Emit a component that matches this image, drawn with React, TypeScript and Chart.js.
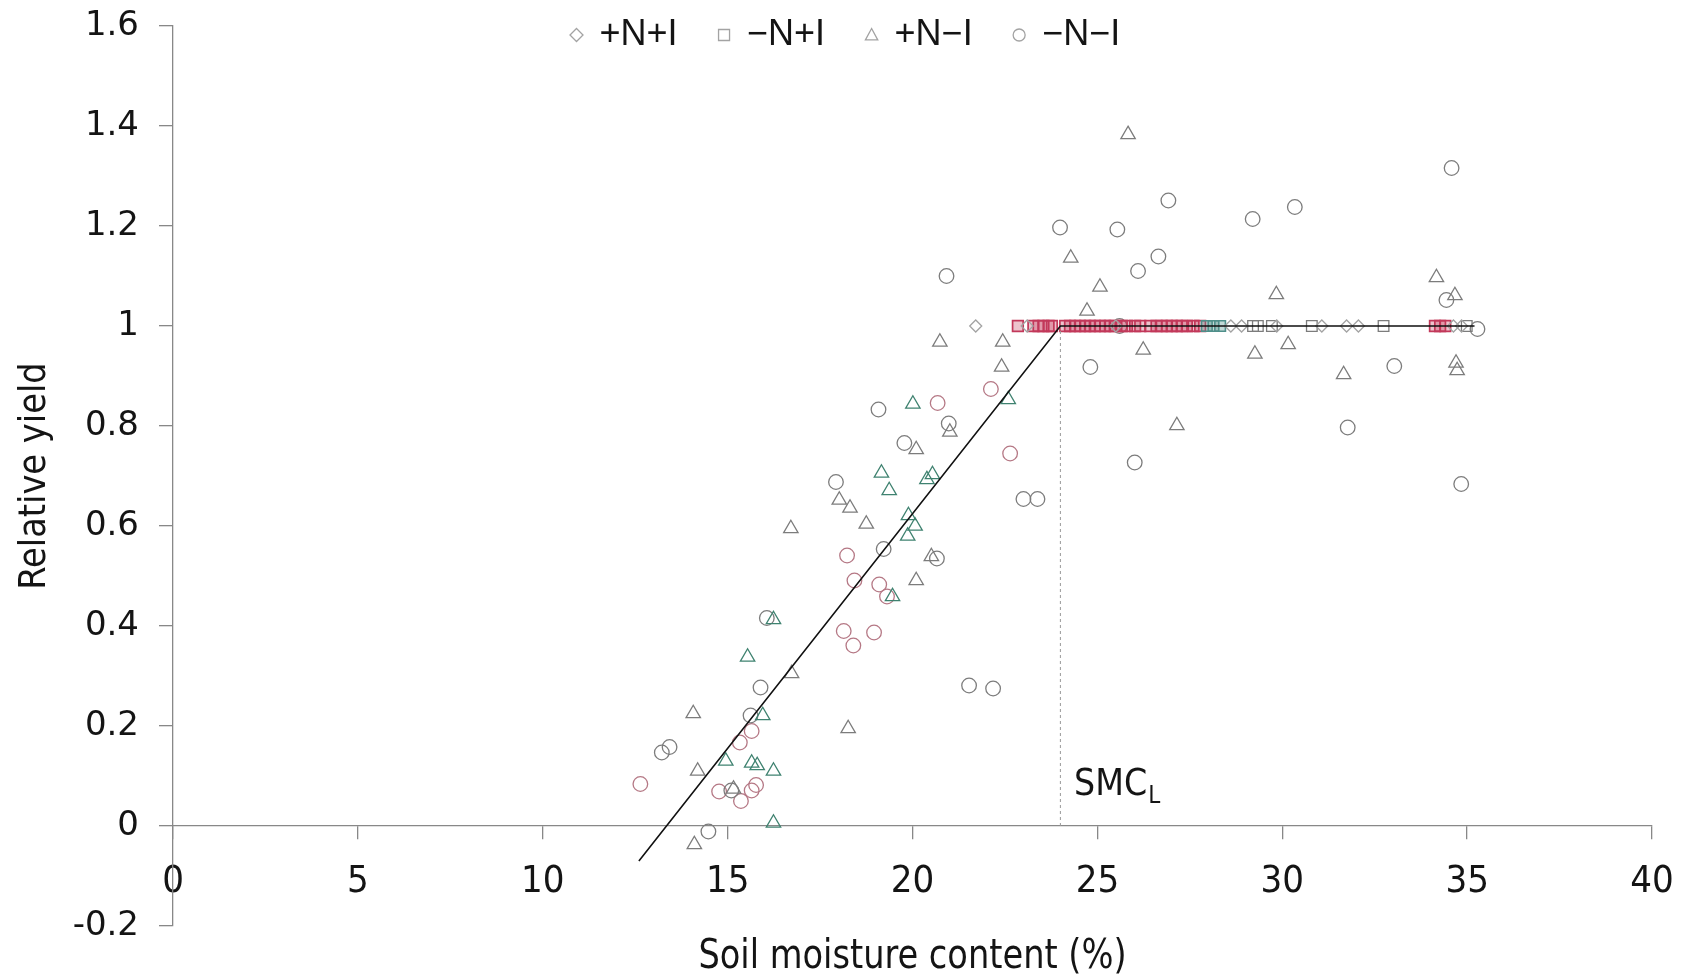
import React, { useEffect, useRef } from "react";
import { Chart, registerables } from "chart.js";

Chart.register(...registerables);

const CANVAS_W = 1696;
const CANVAS_H = 980;

// ---------- data (x = soil moisture %, y = relative yield) ----------
// +N+I (diamonds)
const diamondX = [21.71, 23.1, 25.5, 28.61, 28.9, 29.85, 31.07, 31.74, 32.06, 34.63, 34.85];
const diamondY = [1, 1, 1, 1, 1, 1, 1, 1, 1, 1, 1];

// -N+I (squares), red ones and grey ones
const squareRedX = [22.85, 23.27, 23.41, 23.54, 23.68, 23.77, 24.13, 24.26, 24.4, 24.53, 24.67, 24.8, 24.93, 25.07,
  25.21, 25.34, 25.47, 25.66, 25.8, 26.02, 26.16, 26.43, 26.6, 26.74, 26.88, 27.01, 27.15, 27.28, 27.42, 27.6,
  27.78, 34.13, 34.27, 34.41];
const squareRedY = [1, 1, 1, 1, 1, 1, 1, 1, 1, 1, 1, 1, 1, 1, 1, 1, 1, 1, 1, 1, 1, 1, 1, 1, 1, 1, 1, 1, 1, 1, 1, 1, 1, 1];
const squareTealX = [27.96, 28.14, 28.32];
const squareTealY = [1, 1, 1];
const squareGreyX = [29.21, 29.34, 29.72, 30.8, 32.74, 34.99];
const squareGreyY = [1, 1, 1, 1, 1, 1];

// +N-I (triangles), grey ones and green ones
const triGreyX = [25.83, 24.28, 25.07, 24.72, 20.74, 22.44, 22.41, 26.24, 29.84, 29.26, 30.16, 31.66, 27.15, 34.17,
  34.67, 34.7, 34.73, 21.01, 20.1, 18.02, 18.31, 16.71, 18.75, 20.51, 20.1, 16.73, 14.07, 18.26, 14.19, 14.1, 15.16];
const triGreyY = [1.383, 1.136, 1.078, 1.03, 0.968, 0.968, 0.918, 0.952, 1.063, 0.944, 0.963, 0.903, 0.801, 1.097,
  1.061, 0.926, 0.911, 0.788, 0.753, 0.652, 0.636, 0.595, 0.604, 0.539, 0.491, 0.305, 0.225, 0.195, 0.11, -0.037, 0.074];
const triGreenX = [22.59, 20.01, 19.16, 20.54, 20.39, 19.37, 19.89, 20.07, 19.87, 19.46, 16.24, 15.54, 15.95, 14.95,
  15.65, 15.8, 16.24, 16.24];
const triGreenY = [0.853, 0.844, 0.706, 0.703, 0.693, 0.671, 0.621, 0.6, 0.58, 0.459, 0.413, 0.338, 0.221, 0.13,
  0.126, 0.121, 0.11, 0.006];

// -N-I (circles), grey ones and pink ones
const circGreyX = [20.92, 23.99, 25.54, 26.92, 29.2, 30.34, 34.58, 26.1, 26.65, 34.44, 24.81, 33.03, 31.77, 26.01,
  34.84, 35.28, 25.6, 19.08, 20.98, 19.78, 17.93, 23.0, 23.38, 19.22, 20.66, 16.06, 21.53, 22.18, 15.89, 15.62,
  15.1, 14.48, 13.22, 13.43];
const circGreyY = [1.1, 1.197, 1.193, 1.251, 1.214, 1.238, 1.316, 1.11, 1.139, 1.052, 0.918, 0.92, 0.797, 0.727,
  0.684, 0.994, 1.0, 0.833, 0.805, 0.766, 0.688, 0.654, 0.654, 0.554, 0.535, 0.416, 0.281, 0.275, 0.277, 0.221,
  0.071, -0.011, 0.147, 0.158];
const circPinkX = [20.68, 22.12, 22.64, 18.23, 18.43, 19.1, 19.31, 18.14, 18.96, 18.4, 15.65, 15.33, 12.64, 14.77,
  15.65, 15.77, 15.36];
const circPinkY = [0.846, 0.874, 0.745, 0.541, 0.491, 0.483, 0.459, 0.39, 0.387, 0.361, 0.19, 0.167, 0.084, 0.069,
  0.071, 0.082, 0.05];

// linear-plateau fit and the SMC_L threshold
const fitX = [12.6, 24.0, 35.2];
const fitY = [-0.07, 1.0, 1.0];
const smcLX = [24.0, 24.0];
const smcLY = [0.0, 1.0];
const smcLabelX = 24.37;
const smcLabelY = 0.062;

// axes
const xMin = 0, xMax = 40, xStep = 5;
const yMin = -0.2, yMax = 1.6, yStep = 0.2;
const xTitle = "Soil moisture content (%)";
const yTitle = "Relative yield";
const legendLabels = ["+N+I", "\u2212N+I", "+N\u2212I", "\u2212N\u2212I"];
const legendStyles = ["rectRot", "rect", "triangle", "circle"];

// ---------- styles ----------
const TEXT = "#141414";
const AXIS = "#888888";
const GREY = "#7c7c7c";
const LIGHT_GREY = "#a3a3a3";
const RED = "#c2385a";
const TEAL = "#4f8f8a";
const PINK = "#b57885";
const GREEN = "#3f8270";
const NARROW = '"Liberation Sans Narrow", "DejaVu Sans Condensed", "Arial Narrow", sans-serif';
const WIDE = '"DejaVu Sans", Verdana, sans-serif';
const SANS = '"Liberation Sans", Arial, sans-serif';

const pts = (xs: number[], ys: number[]) => xs.map((x, i) => ({ x, y: ys[i] }));

function drawMarker(ctx: CanvasRenderingContext2D, style: string, x: number, y: number, r: number) {
  ctx.beginPath();
  if (style === "circle") {
    ctx.arc(x, y, r, 0, Math.PI * 2);
  } else if (style === "rect") {
    ctx.rect(x - r, y - r, 2 * r, 2 * r);
  } else if (style === "triangle") {
    ctx.moveTo(x, y - r);
    ctx.lineTo(x + r * 0.95, y + r * 0.75);
    ctx.lineTo(x - r * 0.95, y + r * 0.75);
    ctx.closePath();
  } else {
    ctx.moveTo(x, y - r);
    ctx.lineTo(x + r, y);
    ctx.lineTo(x, y + r);
    ctx.lineTo(x - r, y);
    ctx.closePath();
  }
  ctx.stroke();
}

const overlayPlugin = {
  id: "overlay",
  afterDraw(chart: any) {
    const { ctx, chartArea, scales } = chart;
    ctx.save();
    ctx.fillStyle = TEXT;

    // x axis title (slightly condensed like the original)
    ctx.font = `40px ${NARROW}`;
    ctx.textAlign = "center";
    ctx.textBaseline = "middle";
    ctx.save();
    ctx.translate((chartArea.left + chartArea.right) / 2, 958);
    ctx.scale(0.935, 1);
    ctx.fillText(xTitle, 0, 0);
    ctx.restore();

    // SMC_L label
    const px = scales.x.getPixelForValue(smcLabelX);
    const py = scales.y.getPixelForValue(smcLabelY);
    ctx.textAlign = "left";
    ctx.textBaseline = "alphabetic";
    ctx.font = `37px ${NARROW}`;
    ctx.fillText("SMC", px, py);
    const w = ctx.measureText("SMC").width;
    ctx.font = `24px ${NARROW}`;
    ctx.fillText("L", px + w + 1, py + 8);

    // legend
    ctx.font = `36px ${SANS}`;
    ctx.textBaseline = "middle";
    let cx = 576.5;
    const cy = 35;
    legendLabels.forEach((label, i) => {
      ctx.strokeStyle = LIGHT_GREY;
      ctx.lineWidth = 1.3;
      const r = legendStyles[i] === "rect" ? 5.5 : legendStyles[i] === "circle" ? 6 : 6.5;
      drawMarker(ctx, legendStyles[i], cx, cy, r);
      ctx.fillStyle = TEXT;
      ctx.fillText(label, cx + 23, cy);
      const tw = ctx.measureText(label).width;
      cx = cx + 23 + tw + 46.5;
    });
    ctx.restore();
  },
};

export default function App() {
  const canvasRef = useRef<HTMLCanvasElement | null>(null);

  useEffect(() => {
    const canvas = canvasRef.current;
    if (!canvas) return;
    const markerBase = { showLine: false, borderWidth: 1.3, pointBorderWidth: 1.3, backgroundColor: "rgba(255,255,255,0)", pointBackgroundColor: "rgba(255,255,255,0)" };
    const chart = new Chart(canvas, {
      type: "scatter",
      data: {
        datasets: [
          {
            label: "fit",
            data: pts(fitX, fitY),
            showLine: true,
            borderColor: "#111111",
            borderWidth: 1.6,
            pointRadius: 0,
            fill: false,
          },
          {
            label: "smcl",
            data: pts(smcLX, smcLY),
            showLine: true,
            borderColor: "#9a9a9a",
            borderWidth: 1,
            borderDash: [3, 3],
            pointRadius: 0,
            fill: false,
          },
          { ...markerBase, label: "+N+I", data: pts(diamondX, diamondY), pointStyle: "rectRot", pointRadius: 6, borderColor: LIGHT_GREY, pointBorderColor: LIGHT_GREY },
          { ...markerBase, label: "-N+I grey", data: pts(squareGreyX, squareGreyY), pointStyle: "rect", pointRadius: 7.5, borderColor: GREY, pointBorderColor: GREY },
          { ...markerBase, label: "-N+I teal", data: pts(squareTealX, squareTealY), pointStyle: "rect", pointRadius: 7.5, borderColor: TEAL, pointBorderColor: TEAL, pointBorderWidth: 1.6, pointBackgroundColor: "rgba(79,143,138,0.35)" },
          { ...markerBase, label: "-N+I red", data: pts(squareRedX, squareRedY), pointStyle: "rect", pointRadius: 7.5, borderColor: RED, pointBorderColor: RED, pointBorderWidth: 1.7, pointBackgroundColor: "rgba(194,56,90,0.3)" },
          { ...markerBase, label: "+N-I grey", data: pts(triGreyX, triGreyY), pointStyle: "triangle", pointRadius: 8.3, borderColor: GREY, pointBorderColor: GREY },
          { ...markerBase, label: "+N-I green", data: pts(triGreenX, triGreenY), pointStyle: "triangle", pointRadius: 8.3, borderColor: GREEN, pointBorderColor: GREEN },
          { ...markerBase, label: "-N-I grey", data: pts(circGreyX, circGreyY), pointStyle: "circle", pointRadius: 7.3, borderColor: GREY, pointBorderColor: GREY },
          { ...markerBase, label: "-N-I pink", data: pts(circPinkX, circPinkY), pointStyle: "circle", pointRadius: 7.3, borderColor: PINK, pointBorderColor: PINK },
        ],
      },
      options: {
        responsive: false,
        maintainAspectRatio: false,
        animation: false,
        devicePixelRatio: 1,
        layout: { padding: { left: 0, top: 26, right: 44, bottom: 54 } },
        plugins: { legend: { display: false }, tooltip: { enabled: false } },
        scales: {
          x: {
            type: "linear",
            position: { y: 0 } as any,
            min: xMin,
            max: xMax,
            ticks: { stepSize: xStep, color: TEXT, font: { family: NARROW, size: 38 }, padding: 20, maxRotation: 0 },
            grid: { display: true, drawOnChartArea: false, drawTicks: true, tickLength: 13, color: AXIS, lineWidth: 1.3 },
            border: { display: true, color: AXIS, width: 1.3 },
          },
          y: {
            type: "linear",
            position: "left",
            min: yMin,
            max: yMax,
            afterFit: (s: any) => { s.width = 173; s.paddingTop = 0; s.paddingBottom = 0; },
            ticks: {
              stepSize: yStep,
              color: TEXT,
              font: { family: WIDE, size: 34 },
              padding: 20,
              callback: (v: any) => String(Math.round(Number(v) * 10) / 10),
            },
            grid: { display: true, drawOnChartArea: false, drawTicks: true, tickLength: 14, color: AXIS, lineWidth: 1.3 },
            border: { display: true, color: AXIS, width: 1.3 },
            title: { display: true, text: yTitle, color: TEXT, font: { family: NARROW, size: 37.5 }, padding: { top: 13, bottom: 0 } },
          },
        },
      } as any,
      plugins: [overlayPlugin],
    });
    return () => chart.destroy();
  }, []);

  return (
    <div style={{ position: "fixed", left: 0, top: 0, width: CANVAS_W, height: CANVAS_H, background: "#ffffff" }}>
      <canvas ref={canvasRef} width={CANVAS_W} height={CANVAS_H} style={{ display: "block", width: CANVAS_W, height: CANVAS_H }} />
    </div>
  );
}
